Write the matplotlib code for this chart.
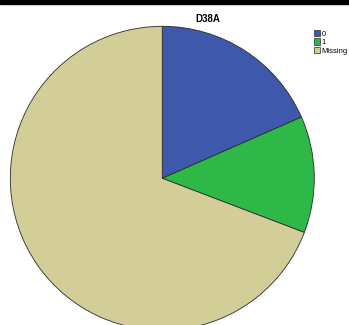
import matplotlib.pyplot as plt
from matplotlib.patches import Rectangle

labels = ['0', '1', 'Missing']
values = [18.4, 12.4, 69.2]
colors = ['#3e58ac', '#2eb848', '#d3ce97']

fig = plt.figure(figsize=(3.49, 3.25), dpi=100)

# black strip along the top edge
fig.patches.append(Rectangle((0, 1 - 4 / 325), 1, 4 / 325, transform=fig.transFigure,
                             color='black', zorder=5))

ax = fig.add_axes([(162.3 - 152) / 349, (146.7 - 152) / 325, 304 / 349, 304 / 325])
wedges, _ = ax.pie(values, colors=colors, startangle=90, counterclock=False,
                   wedgeprops={'edgecolor': '#2a2a2a', 'linewidth': 0.6})
ax.set_xlim(-1, 1)
ax.set_ylim(-1, 1)
ax.set_aspect('auto')
ax.axis('off')

fig.text(208 / 349, 1 - 19.5 / 325, 'D38A', ha='center', va='center',
         fontsize=7, fontweight='bold', family='Liberation Sans')

leg = fig.legend(wedges, labels, loc='upper left', bbox_to_anchor=(314 / 349, 1 - 30 / 325),
                 frameon=False, handlelength=0.85, handleheight=0.85,
                 labelspacing=0.1, handletextpad=0.15, borderaxespad=0, borderpad=0,
                 prop={'family': 'Liberation Sans', 'size': 5.5})
for h in leg.legend_handles:
    h.set_linewidth(0.5)

fig.savefig('out.png', dpi=100)
